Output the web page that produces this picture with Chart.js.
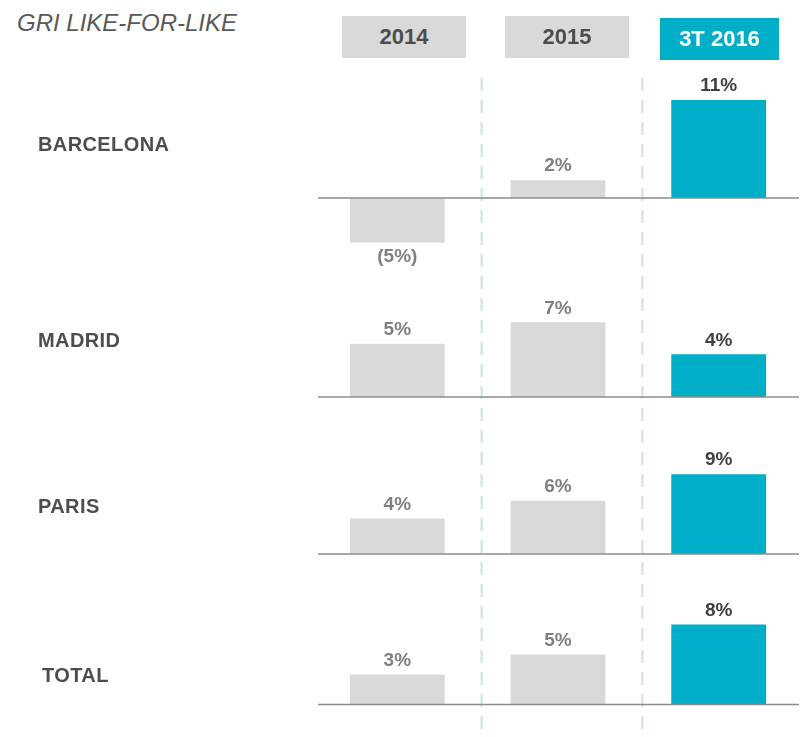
<!DOCTYPE html>
<html>
<head>
<meta charset="utf-8">
<script src="https://cdn.jsdelivr.net/npm/chart.js@4.4.1/dist/chart.umd.min.js"></script>
<style>
  html, body { margin: 0; padding: 0; background: #ffffff; }
  body { width: 802px; height: 737px; position: relative; overflow: hidden;
         font-family: "Liberation Sans", Arial, sans-serif; }
  .abs { position: absolute; white-space: nowrap; }
  #title { left: 17px; top: 11px; font-size: 24px; line-height: 24px;
           font-style: italic; color: #595959; }
  .row-label { font-size: 20px; line-height: 20px; font-weight: bold;
               color: #4d4d4d; letter-spacing: 0.4px; }
  .hdr { height: 42px; line-height: 42px; text-align: center;
         font-size: 22px; font-weight: bold; }
  canvas { position: absolute; }
</style>
</head>
<body>
<div id="title" class="abs">GRI LIKE-FOR-LIKE</div>
<canvas id="dividers" width="802" height="737" style="left:0;top:0;"></canvas>

<script>
// Column periods and row markets
const periods = ['2014', '2015', '3T 2016'];
const markets = ['BARCELONA', 'MADRID', 'PARIS', 'TOTAL'];

// Like-for-like change (%) per market, one value per period
const barcelona = [-5, 2, 11];
const madrid    = [5, 7, 4];
const paris     = [4, 6, 9];
const total     = [3, 5, 8];
const series = [barcelona, madrid, paris, total];

// Colours
const GREY = '#d9d9d9';
const TEAL = '#00aec7';
const LABEL_GREY = '#7f7f7f';
const LABEL_DARK = '#404040';

// Geometry of each row panel (page pixels)
const plotLeft = 317, plotWidth = 482;
const rowLayout = [
  { top: 62,  bottom: 272, zero: 198,   ppu: 8.9,   labelY: 144, labelX: 38 },
  { top: 272, bottom: 420, zero: 397,   ppu: 10.67, labelY: 340, labelX: 38 },
  { top: 420, bottom: 578, zero: 554,   ppu: 8.87,  labelY: 506, labelX: 38 },
  { top: 578, bottom: 737, zero: 704.5, ppu: 9.99,  labelY: 675, labelX: 42 }
];

// Period header boxes
const headerBoxes = [
  { left: 342, top: 16, width: 124, bg: GREY, color: '#4d4d4d' },
  { left: 505, top: 16, width: 124, bg: GREY, color: '#4d4d4d' },
  { left: 660, top: 18, width: 119, bg: TEAL, color: '#ffffff' }
];

headerBoxes.forEach((b, i) => {
  const d = document.createElement('div');
  d.className = 'abs hdr';
  d.style.left = b.left + 'px';
  d.style.top = b.top + 'px';
  d.style.width = b.width + 'px';
  d.style.background = b.bg;
  d.style.color = b.color;
  d.textContent = periods[i];
  document.body.appendChild(d);
});

markets.forEach((m, i) => {
  const d = document.createElement('div');
  d.className = 'abs row-label';
  d.style.left = rowLayout[i].labelX + 'px';
  d.style.top = (rowLayout[i].labelY - 10) + 'px';
  d.textContent = m;
  document.body.appendChild(d);
});

const fmt = v => v < 0 ? '(' + Math.abs(v) + '%)' : v + '%';

// Zero line drawn over the bars, then the value labels
const baselineAndLabels = {
  id: 'baselineAndLabels',
  afterDatasetsDraw(chart) {
    const { ctx, chartArea, scales } = chart;
    const y0 = scales.y.getPixelForValue(0);
    ctx.save();
    ctx.strokeStyle = '#8c8c8c';
    ctx.lineWidth = 1.6;
    ctx.beginPath();
    ctx.moveTo(chartArea.left + 1, y0);
    ctx.lineTo(chartArea.right, y0);
    ctx.stroke();

    ctx.font = 'bold 19px "Liberation Sans", Arial, sans-serif';
    ctx.textAlign = 'center';
    ctx.textBaseline = 'middle';
    const meta = chart.getDatasetMeta(0);
    const values = chart.data.datasets[0].data;
    meta.data.forEach((bar, i) => {
      const v = values[i];
      ctx.fillStyle = i === 2 ? LABEL_DARK : LABEL_GREY;
      const y = v >= 0 ? bar.y - 14 : bar.y + 14;
      ctx.fillText(fmt(v), bar.x, y);
    });
    ctx.restore();
  }
};

const charts = series.map((values, r) => {
  const L = rowLayout[r];
  const h = L.bottom - L.top;
  const cv = document.createElement('canvas');
  cv.width = plotWidth;
  cv.height = h;
  cv.style.left = plotLeft + 'px';
  cv.style.top = L.top + 'px';
  cv.style.width = plotWidth + 'px';
  cv.style.height = h + 'px';
  document.body.appendChild(cv);
  const yMax = (L.zero - L.top) / L.ppu;
  const yMin = -(L.bottom - L.zero) / L.ppu;
  return new Chart(cv, {
    type: 'bar',
    data: {
      labels: periods,
      datasets: [{
        data: values,
        backgroundColor: periods.map((p, i) => i === 2 ? TEAL : GREY),
        borderWidth: 0,
        barPercentage: 0.59,
        categoryPercentage: 1
      }]
    },
    options: {
      responsive: false,
      animation: false,
      events: [],
      devicePixelRatio: 1,
      layout: { padding: 0 },
      plugins: { legend: { display: false }, tooltip: { enabled: false } },
      scales: {
        x: { display: false, offset: true },
        y: { display: false, min: yMin, max: yMax }
      }
    },
    plugins: [baselineAndLabels]
  });
});

// Dashed separators between the period columns
(function drawDividers() {
  const xs = charts[0].scales.x;
  const cv = document.getElementById('dividers');
  const ctx = cv.getContext('2d');
  ctx.strokeStyle = '#d3e8e8';
  ctx.lineWidth = 2.5;
  ctx.setLineDash([13, 9]);
  for (let i = 0; i < periods.length - 1; i++) {
    const x = plotLeft + (xs.getPixelForValue(i) + xs.getPixelForValue(i + 1)) / 2 + 4;
    ctx.beginPath();
    ctx.moveTo(x, 78);
    ctx.lineTo(x, 737);
    ctx.stroke();
  }
})();
</script>
</body>
</html>
